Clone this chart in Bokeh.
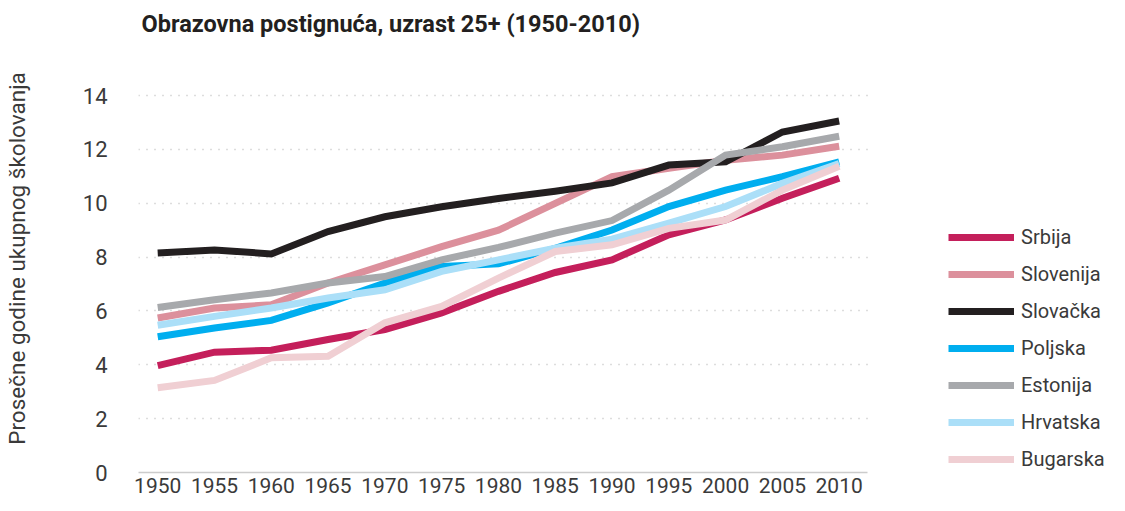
from bokeh.plotting import figure
from bokeh.models import Legend, LegendItem, FixedTicker, Range1d
from bokeh.embed import file_html
from bokeh.resources import INLINE

years = [1950, 1955, 1960, 1965, 1970, 1975, 1980, 1985, 1990, 1995, 2000, 2005, 2010]

srbija    = [3.97, 4.47, 4.54, 4.94, 5.31, 5.93, 6.73, 7.43, 7.90, 8.83, 9.38, 10.19, 10.93]
slovenija = [5.74, 6.11, 6.23, 7.04, 7.71, 8.39, 9.00, 10.00, 10.99, 11.30, 11.60, 11.79, 12.12]
slovacka  = [8.15, 8.27, 8.12, 8.95, 9.50, 9.87, 10.18, 10.45, 10.76, 11.42, 11.54, 12.65, 13.06]
poljska   = [5.04, 5.37, 5.65, 6.30, 7.04, 7.65, 7.75, 8.33, 9.01, 9.88, 10.49, 10.99, 11.54]
estonija  = [6.13, 6.42, 6.67, 7.04, 7.28, 7.90, 8.36, 8.89, 9.36, 10.49, 11.79, 12.10, 12.49]
hrvatska  = [5.47, 5.80, 6.11, 6.48, 6.79, 7.47, 7.90, 8.33, 8.67, 9.26, 9.88, 10.74, 11.48]
bugarska  = [3.15, 3.42, 4.26, 4.32, 5.56, 6.17, 7.22, 8.21, 8.46, 9.07, 9.38, 10.49, 11.38]

names = ["Srbija", "Slovenija", "Slovačka", "Poljska", "Estonija", "Hrvatska", "Bugarska"]
series = [srbija, slovenija, slovacka, poljska, estonija, hrvatska, bugarska]
colors = ["#c41f5b", "#dc909c", "#231f20", "#00aeef", "#a7a9ac", "#abdff8", "#f0cfd3"]

title_text = "Obrazovna postignuća, uzrast 25+ (1950-2010)"
y_label = "Prosečne godine ukupnog školovanja"
y_ticks = [0, 2, 4, 6, 8, 10, 12, 14]

FONT = "Roboto"
X0, X1 = 1948.31, 2012.48   # visible span of the data axis

p = figure(width=1109, height=495, output_backend="svg", toolbar_location=None,
           x_range=Range1d(X0, 2033.8), y_range=Range1d(0, 15.9),
           min_border_left=133, min_border_right=0, min_border_top=0,
           min_border_bottom=0)

p.outline_line_color = None
p.background_fill_color = "white"
p.border_fill_color = "white"

p.title.text = title_text
p.title.text_font = FONT
p.title.text_font_style = "bold"
p.title.text_font_size = "23.5px"
p.title.text_color = "#231f20"
p.title.standoff = 14
p.title.offset = 3

renderers = []
for name, ys, c in zip(names, series, colors):
    r = p.line(years, ys, line_color=c, line_width=7, line_cap="butt", line_join="miter")
    renderers.append((name, r))

p.xaxis.ticker = FixedTicker(ticks=years)
p.xaxis.bounds = (X0, X1)
p.xaxis.axis_line_color = "#cccccc"
p.xaxis.axis_line_width = 1.5
p.xaxis.major_tick_line_color = None
p.xaxis.minor_tick_line_color = None
p.xaxis.major_tick_out = 0
p.xaxis.minor_tick_out = 0
p.xaxis.major_label_text_font = FONT
p.xaxis.major_label_text_font_size = "21px"
p.xaxis.major_label_text_color = "#3a3a3a"
p.xaxis.major_label_standoff = 5

p.yaxis.ticker = FixedTicker(ticks=y_ticks)
p.yaxis.axis_line_color = None
p.yaxis.major_tick_line_color = None
p.yaxis.minor_tick_line_color = None
p.yaxis.major_tick_out = 0
p.yaxis.minor_tick_out = 0
p.yaxis.major_label_text_font = FONT
p.yaxis.major_label_text_font_size = "22px"
p.yaxis.major_label_text_color = "#3a3a3a"
p.yaxis.major_label_standoff = 31
p.yaxis.axis_label = y_label
p.yaxis.axis_label_text_font = FONT
p.yaxis.axis_label_text_font_style = "normal"
p.yaxis.axis_label_text_font_size = "22.5px"
p.yaxis.axis_label_text_color = "#3a3a3a"
p.yaxis.axis_label_standoff = 50

p.xgrid.grid_line_color = None
p.ygrid.ticker = FixedTicker(ticks=[2, 4, 6, 8, 10, 12, 14])
p.ygrid.cross_bounds = (X0, X1)
p.ygrid.grid_line_color = "#bbbbbb"
p.ygrid.grid_line_width = 1.5
p.ygrid.grid_line_dash = "1 7"

legend = Legend(items=[LegendItem(label=n, renderers=[r]) for n, r in renderers],
                location=(810, 1), orientation="vertical",
                glyph_width=66, glyph_height=24, label_height=24, label_standoff=7,
                label_text_font=FONT, label_text_font_size="20px",
                label_text_color="#3a3a3a", spacing=13, padding=0, margin=0,
                border_line_color=None, background_fill_alpha=0)
p.add_layout(legend, "center")

open("out.html", "w").write(file_html(p, INLINE))
